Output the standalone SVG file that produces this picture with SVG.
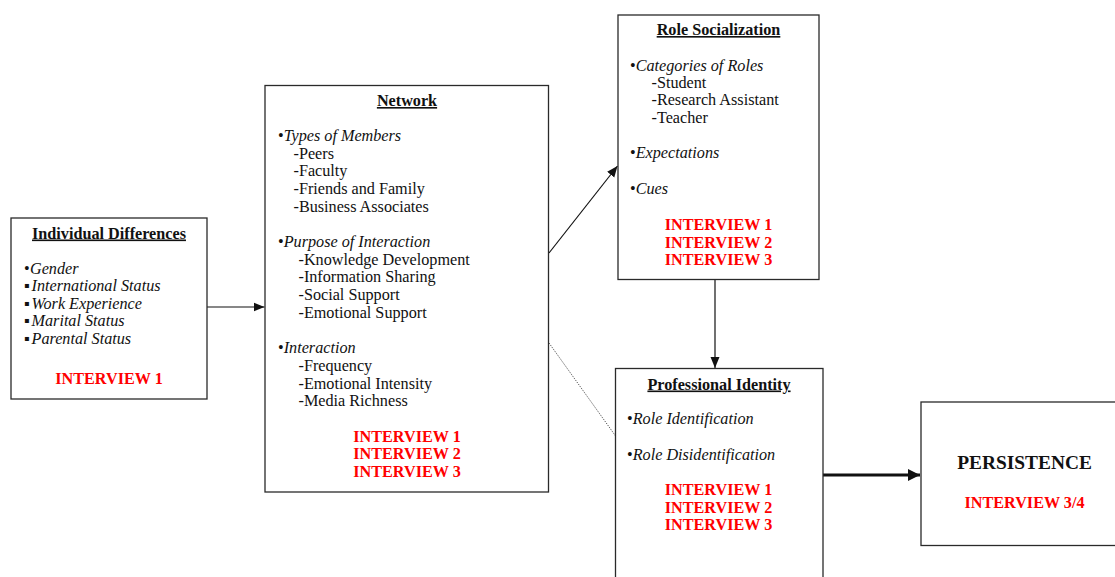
<svg xmlns="http://www.w3.org/2000/svg" width="1115" height="577" viewBox="0 0 1115 577">
  <defs>
    <style>
      .box { fill: #ffffff; stroke: #2a2a2a; stroke-width: 1.3; }
      text { font-family: "Liberation Serif", "Times New Roman", "DejaVu Serif", serif; font-size: 16.2px; fill: #111111; }
      .title { font-weight: bold; text-decoration: underline; text-anchor: middle; }
      .it { font-style: italic; }
      .red { fill: #ff0000; font-weight: bold; text-anchor: middle; }
      .big { font-weight: bold; font-size: 19.4px; text-anchor: middle; }
      .link { fill: none; stroke: #111111; stroke-width: 1.2; }
    </style>
    <marker id="arrow" markerUnits="userSpaceOnUse" markerWidth="12" markerHeight="10" refX="11" refY="5" orient="auto">
      <path d="M0,0.5 L11,5 L0,9.5 Z" fill="#111111"/>
    </marker>
    <marker id="arrowThick" markerUnits="userSpaceOnUse" markerWidth="13" markerHeight="14" refX="12" refY="7" orient="auto">
      <path d="M0,1 L12,7 L0,13 Z" fill="#111111"/>
    </marker>
  </defs>

  <!-- connectors -->
  <g id="connectors">
    <line class="link" x1="207" y1="307" x2="264.5" y2="307" marker-end="url(#arrow)"/>
    <line class="link" x1="549" y1="253" x2="617.5" y2="166" marker-end="url(#arrow)"/>
    <line class="link" x1="715" y1="280" x2="715" y2="368" marker-end="url(#arrow)"/>
    <line x1="549" y1="343" x2="617" y2="438" stroke="#555555" stroke-width="1" stroke-dasharray="1.2 1.2"/>
    <line x1="823" y1="475" x2="920" y2="475" stroke="#111111" stroke-width="3" marker-end="url(#arrowThick)"/>
  </g>

  <!-- Individual Differences -->
  <g id="individual-differences">
    <rect class="box" x="11" y="218" width="196" height="181"/>
    <text class="title" x="109" y="238.5">Individual Differences</text>
    <text x="24" y="273.5"><tspan>•</tspan><tspan class="it" x="30">Gender</tspan></text>
    <text x="24" y="291"><tspan>▪</tspan><tspan class="it" x="31.5">International Status</tspan></text>
    <text x="24" y="308.7"><tspan>▪</tspan><tspan class="it" x="31.5">Work Experience</tspan></text>
    <text x="24" y="326.3"><tspan>▪</tspan><tspan class="it" x="31.5">Marital Status</tspan></text>
    <text x="24" y="344"><tspan>▪</tspan><tspan class="it" x="31.5">Parental Status</tspan></text>
    <text class="red" x="109" y="383.5">INTERVIEW 1</text>
  </g>

  <!-- Network -->
  <g id="network">
    <rect class="box" x="265" y="85.5" width="283.5" height="406.5"/>
    <text class="title" x="407" y="106">Network</text>
    <text x="278" y="141"><tspan>•</tspan><tspan class="it">Types of Members</tspan></text>
    <text x="293.5" y="158.5">-Peers</text>
    <text x="293.5" y="176">-Faculty</text>
    <text x="293.5" y="193.8">-Friends and Family</text>
    <text x="293.5" y="211.5">-Business Associates</text>
    <text x="278" y="247"><tspan>•</tspan><tspan class="it">Purpose of Interaction</tspan></text>
    <text x="298.5" y="264.6">-Knowledge Development</text>
    <text x="298.5" y="282.3">-Information Sharing</text>
    <text x="298.5" y="300">-Social Support</text>
    <text x="298.5" y="317.7">-Emotional Support</text>
    <text x="278" y="353.2"><tspan>•</tspan><tspan class="it">Interaction</tspan></text>
    <text x="298.5" y="370.8">-Frequency</text>
    <text x="298.5" y="388.5">-Emotional Intensity</text>
    <text x="298.5" y="406.2">-Media Richness</text>
    <text class="red" x="407" y="441.7">INTERVIEW 1</text>
    <text class="red" x="407" y="459.4">INTERVIEW 2</text>
    <text class="red" x="407" y="477.2">INTERVIEW 3</text>
  </g>

  <!-- Role Socialization -->
  <g id="role-socialization">
    <rect class="box" x="618" y="15" width="201" height="264.5"/>
    <text class="title" x="718.5" y="35">Role Socialization</text>
    <text x="630" y="71"><tspan>•</tspan><tspan class="it">Categories of Roles</tspan></text>
    <text x="651.5" y="87.5">-Student</text>
    <text x="651.5" y="105">-Research Assistant</text>
    <text x="651.5" y="122.8">-Teacher</text>
    <text x="630" y="158.3"><tspan>•</tspan><tspan class="it">Expectations</tspan></text>
    <text x="630" y="193.5"><tspan>•</tspan><tspan class="it">Cues</tspan></text>
    <text class="red" x="718.5" y="230">INTERVIEW 1</text>
    <text class="red" x="718.5" y="247.5">INTERVIEW 2</text>
    <text class="red" x="718.5" y="264.5">INTERVIEW 3</text>
  </g>

  <!-- Professional Identity -->
  <g id="professional-identity">
    <rect class="box" x="615.5" y="368.5" width="207.5" height="215"/>
    <text class="title" x="719" y="389.5">Professional Identity</text>
    <text x="627" y="423.5"><tspan>•</tspan><tspan class="it">Role Identification</tspan></text>
    <text x="627" y="459.5"><tspan>•</tspan><tspan class="it">Role Disidentification</tspan></text>
    <text class="red" x="718.5" y="495">INTERVIEW 1</text>
    <text class="red" x="718.5" y="512.7">INTERVIEW 2</text>
    <text class="red" x="718.5" y="530.3">INTERVIEW 3</text>
  </g>

  <!-- Persistence -->
  <g id="persistence">
    <rect class="box" x="921" y="402" width="200" height="143.5"/>
    <text class="big" x="1024.5" y="468.5">PERSISTENCE</text>
    <text class="red" x="1024.5" y="507.8">INTERVIEW 3/4</text>
  </g>
</svg>
